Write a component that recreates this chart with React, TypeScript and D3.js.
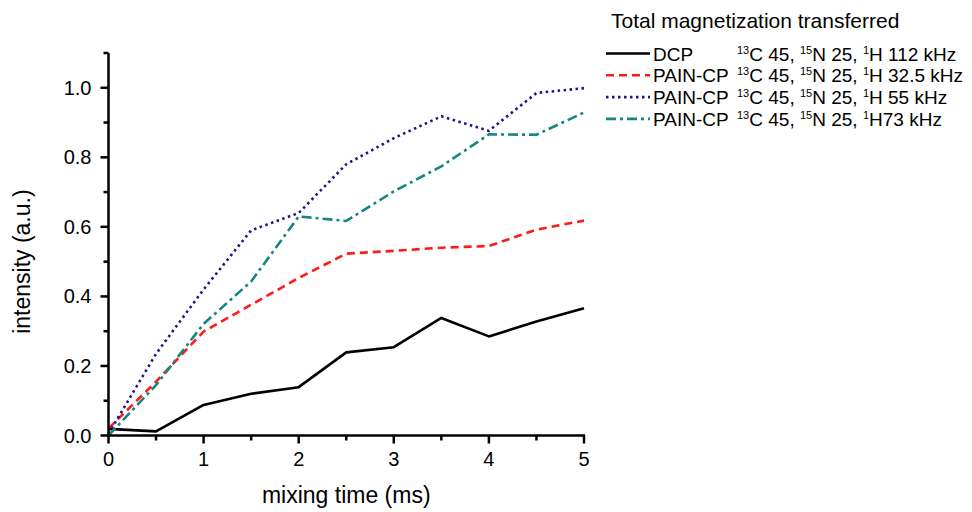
import React from "react";
import * as d3 from "d3";

const times = [0, 0.5, 1, 1.5, 2, 2.5, 3, 3.5, 4, 4.5, 5];
const dcp = [0.019, 0.012, 0.088, 0.12, 0.139, 0.239, 0.254, 0.338, 0.285, 0.328, 0.366];
const pain325 = [0.02, 0.155, 0.299, 0.376, 0.453, 0.523, 0.531, 0.54, 0.545, 0.592, 0.618];
const pain55 = [0.005, 0.235, 0.42, 0.59, 0.64, 0.78, 0.855, 0.918, 0.876, 0.985, 0.999];
const pain73 = [0.0, 0.145, 0.321, 0.443, 0.63, 0.617, 0.702, 0.774, 0.866, 0.865, 0.929];
const xTicks = [0, 1, 2, 3, 4, 5];
const yTicks = [0, 0.2, 0.4, 0.6, 0.8, 1.0];

const series = [
  {name: "DCP", values: dcp, color: "#000000", dash: "none", hz: "112 kHz", space: " "},
  {name: "PAIN-CP", values: pain325, color: "#ff1a1a", dash: "8,5", hz: "32.5 kHz", space: " "},
  {name: "PAIN-CP", values: pain55, color: "#22138c", dash: "2.5,3.5", hz: "55 kHz", space: " "},
  {name: "PAIN-CP", values: pain73, color: "#15877f", dash: "10,4,3,4", hz: "73 kHz", space: ""},
];

const font = "'Liberation Sans', Arial, sans-serif";

export default function App() {
  const width = 972, height = 512;
  const x = d3.scaleLinear().domain([0, 5]).range([108.5, 584]);
  const y = d3.scaleLinear().domain([0, 1.1]).range([435.5, 53]);

  const line = d3.line<[number, number]>().x(d => x(d[0])).y(d => y(d[1]));

  const xMinor = d3.range(0, 5.01, 0.5);
  const yMinor = d3.range(0, 1.101, 0.1);

  return (
    <svg width={width} height={height} style={{position: "absolute", left: 0, top: 0}} fontFamily={font}>
      <rect width={width} height={height} fill="#fff" />

      {series.map((s, i) => (
        <path key={i} d={line(times.map((t, j) => [t, s.values[j]]) as [number, number][]) || ""}
              fill="none" stroke={s.color} strokeWidth={2.6} strokeDasharray={s.dash} strokeLinejoin="round" />
      ))}

      {/* axes */}
      <g stroke="#000" strokeWidth={2.5}>
        <line x1={x(0)} x2={x(0)} y1={y(1.1)} y2={y(0) + 1} />
        <line x1={x(0) - 1} x2={x(5) + 1} y1={y(0)} y2={y(0)} />
        {yMinor.map((v, i) => (
          <line key={"ym" + i} x1={x(0)} x2={x(0) - (i % 2 === 0 ? 8 : 5)} y1={y(v)} y2={y(v)} />
        ))}
        {xMinor.map((v, i) => (
          <line key={"xm" + i} x1={x(v)} x2={x(v)} y1={y(0)} y2={y(0) + (i % 2 === 0 ? 8 : 5)} />
        ))}
      </g>
      <g fontSize={20} fill="#000">
        {yTicks.map(v => (
          <text key={v} x={x(0) - 17} y={y(v)} dy="0.35em" textAnchor="end">{v.toFixed(1)}</text>
        ))}
        {xTicks.map(v => (
          <text key={v} x={x(v)} y={y(0) + 30} textAnchor="middle">{v}</text>
        ))}
        <text x={x(2.5)} y={503} textAnchor="middle" fontSize={23}>mixing time (ms)</text>
        <text transform={`translate(30,${y(0.5)}) rotate(-90)`} textAnchor="middle" fontSize={23}>intensity (a.u.)</text>
      </g>

      {/* legend */}
      <g fontSize={19} fill="#000">
        <text x={611} y={28} fontSize={21}>Total magnetization transferred</text>
        {series.map((s, i) => {
          const cy = 53.5 + i * 21.8;
          return (
            <g key={i}>
              <line x1={606} x2={650} y1={cy} y2={cy} stroke={s.color} strokeWidth={2.6} strokeDasharray={s.dash} />
              <text x={653} y={cy + 7}>{s.name}</text>
              <text x={737} y={cy + 7}>
                <tspan fontSize={11} dy={-7}>13</tspan>
                <tspan dy={7}>C 45, </tspan>
                <tspan fontSize={11} dy={-7}>15</tspan>
                <tspan dy={7}>N 25, </tspan>
                <tspan fontSize={11} dy={-7}>1</tspan>
                <tspan dy={7}>{"H" + s.space + s.hz}</tspan>
              </text>
            </g>
          );
        })}
      </g>
    </svg>
  );
}
